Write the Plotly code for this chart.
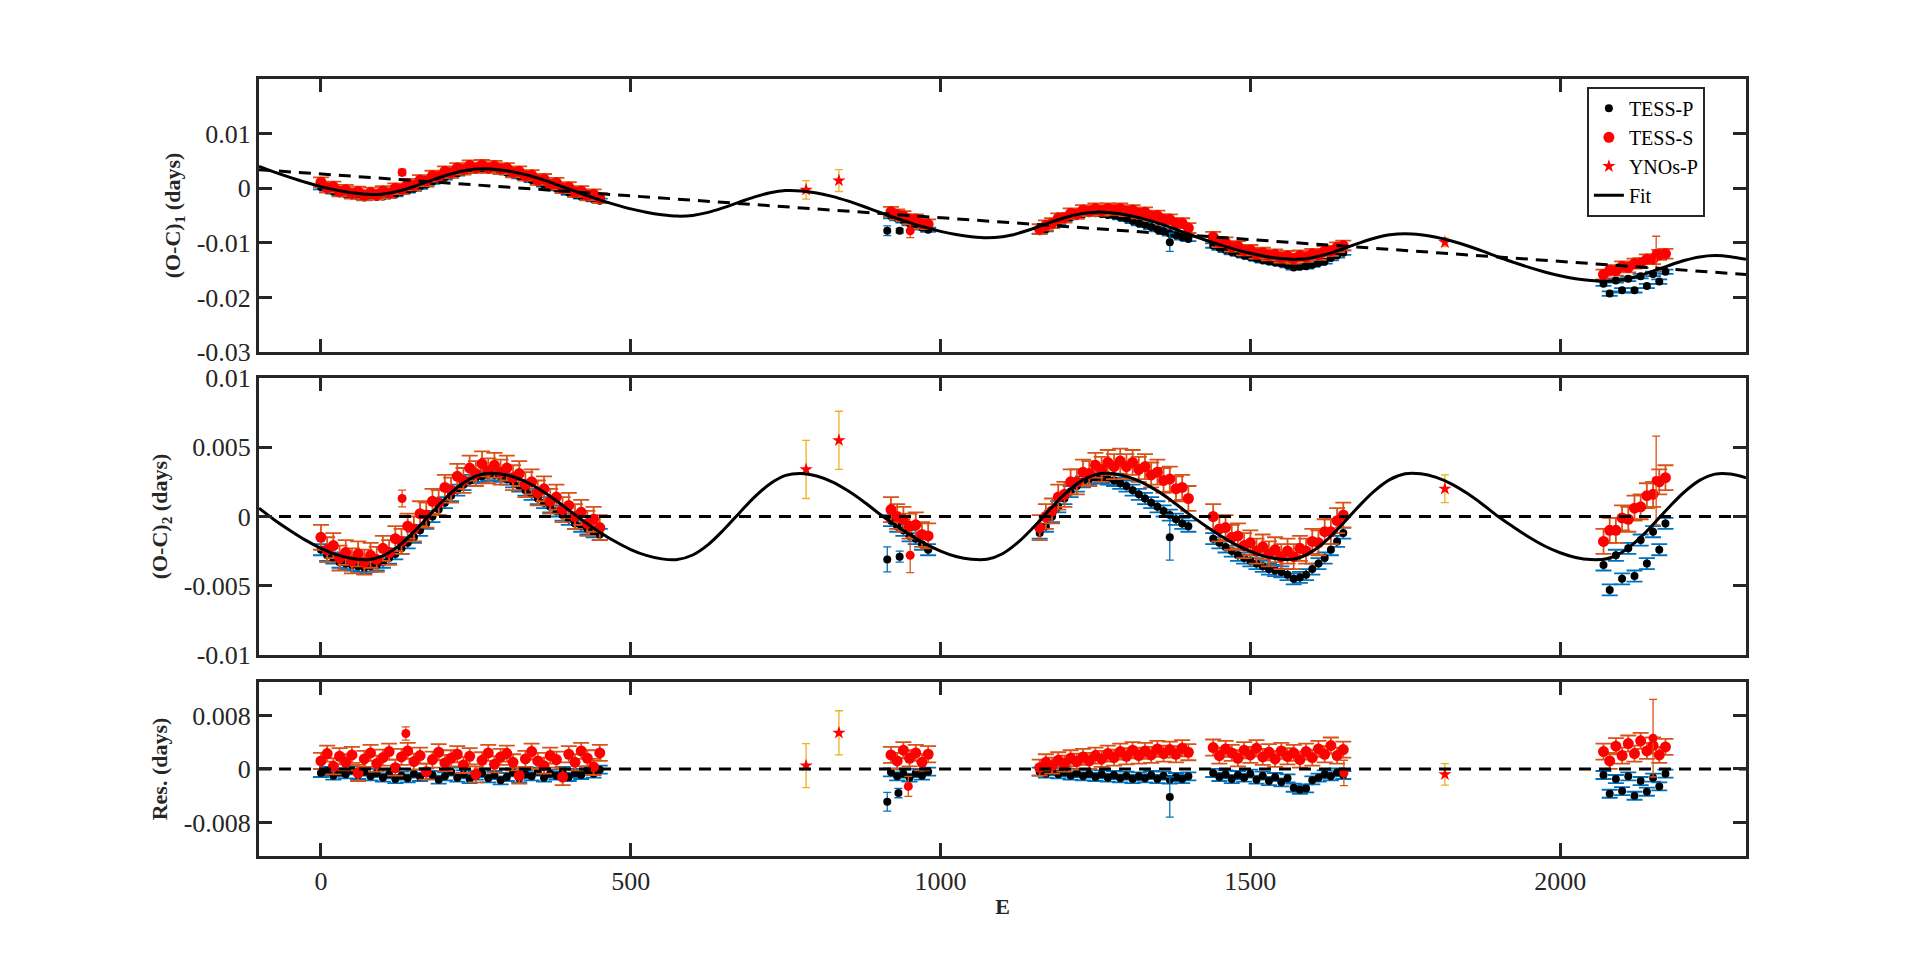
import numpy as np
import plotly.graph_objects as go

# all O-C values below are in units of 1e-3 days
MS = 1e-3

# epochs of the TESS minima (clusters of sectors)
TESS_E = [
    0, 10, 20, 30, 40, 50, 60, 70, 80, 90, 100, 110, 120, 130, 140, 150,
    160, 170, 180, 190, 200, 210, 220, 230, 240, 250, 260, 270, 280, 290,
    300, 310, 320, 330, 340, 350, 360, 370, 380, 390, 400, 410, 420, 430,
    440, 450,
    920, 930, 940, 950, 960, 970, 980,
    1160, 1170, 1180, 1190, 1200, 1210, 1220, 1230, 1240, 1250, 1260, 1270,
    1280, 1290, 1300, 1310, 1320, 1330, 1340, 1350, 1360, 1370, 1380, 1390,
    1400,
    1440, 1450, 1460, 1470, 1480, 1490, 1500, 1510, 1520, 1530, 1540, 1550,
    1560, 1570, 1580, 1590, 1600, 1610, 1620, 1630, 1640, 1650,
    2070, 2080, 2090, 2100, 2110, 2120, 2130, 2140, 2150, 2160, 2170,
]

# (O-C)_1
OC1_S = [
    1.1, 0.1, 0.3, -0.6, -0.3, -1.0, -0.6, -1.3, -0.8, -1.2, -0.5, -0.9, 0.0,
    -0.2, 0.8, 0.5, 1.5, 1.3, 2.3, 2.1, 3.1, 2.8, 3.7, 3.4, 4.2, 3.7, 4.3,
    3.7, 4.1, 3.5, 3.7, 2.9, 3.1, 2.3, 2.4, 1.5, 1.7, 0.7, 1.0, 0.0, 0.2,
    -0.7, -0.5, -1.3, -1.1, -1.8,
    -4.3, -4.8, -5.1, -5.7, -5.7, -6.5, -6.6,
    -7.5, -6.8, -6.4, -5.5, -5.4, -4.6, -4.7, -4.0, -4.2, -3.7, -4.1, -3.7,
    -4.0, -3.7, -4.2, -4.0, -4.6, -4.4, -5.1, -5.0, -5.7, -5.7, -6.4, -6.4,
    -7.3,
    -8.9, -9.9, -9.9, -10.7, -10.6, -11.4, -11.3, -12.0, -11.8, -12.3, -12.1,
    -12.7, -12.4, -12.9, -12.3, -12.6, -12.0, -12.2, -11.5, -11.5, -10.8,
    -10.5,
    -15.8, -15.0, -15.1, -14.3, -14.5, -13.8, -13.7, -13.0, -13.0, -12.2,
    -12.0,
]
OC1_P = [
    0.2, -0.3, -0.6, -0.9, -1.1, -1.3, -1.5, -1.7, -1.6, -1.6, -1.5, -1.3,
    -1.1, -0.7, -0.4, -0.1, 0.3, 0.7, 1.2, 1.6, 2.0, 2.4, 2.7, 3.1, 3.3, 3.4,
    3.4, 3.4, 3.4, 3.2, 2.9, 2.6, 2.2, 1.9, 1.5, 1.1, 0.7, 0.3, 0.0, -0.4,
    -0.8, -1.2, -1.5, -1.7, -2.0, -2.3,
    -5.1, -5.5, -5.9, -6.4, -6.7, -7.2, -7.6,
    -7.9, -7.5, -6.8, -6.2, -5.7, -5.3, -5.0, -4.7, -4.6, -4.6, -4.7, -4.9,
    -5.0, -5.3, -5.6, -6.0, -6.4, -6.7, -7.1, -7.5, -7.9, -8.3, -8.6, -9.0,
    -9.3,
    -10.5, -10.9, -11.3, -11.7, -12.0, -12.3, -12.6, -12.9, -13.2, -13.4,
    -13.6, -13.8, -14.1, -14.5, -14.4, -14.3, -14.0, -13.7, -13.4, -12.8,
    -12.3, -11.8,
    -17.5, -19.3, -16.9, -18.7, -16.6, -18.7, -16.1, -17.9, -15.7, -17.1,
    -15.3,
]

# (O-C)_2
OC2_S = [
    -1.5, -2.4, -2.1, -3.0, -2.6, -3.2, -2.7, -3.3, -2.8, -3.1, -2.3, -2.6,
    -1.6, -1.8, -0.7, -0.9, 0.2, 0.1, 1.1, 1.0, 2.1, 1.9, 2.9, 2.6, 3.5, 3.1,
    3.8, 3.3, 3.7, 3.2, 3.5, 2.8, 3.1, 2.3, 2.5, 1.7, 2.0, 1.1, 1.4, 0.5, 0.8,
    0.0, 0.3, -0.5, -0.2, -0.8,
    0.5, 0.0, -0.2, -0.7, -0.6, -1.3, -1.4,
    -0.8, 0.0, 0.4, 1.4, 1.6, 2.5, 2.5, 3.2, 3.1, 3.7, 3.4, 3.9, 3.6, 4.0,
    3.6, 3.9, 3.4, 3.6, 3.0, 3.2, 2.6, 2.7, 2.0, 2.1, 1.3,
    0.0, -0.9, -0.8, -1.5, -1.4, -2.1, -1.9, -2.5, -2.2, -2.7, -2.4, -2.9,
    -2.5, -2.9, -2.3, -2.5, -1.8, -1.9, -1.1, -1.1, -0.3, 0.1,
    -1.8, -1.0, -1.0, -0.1, -0.2, 0.6, 0.7, 1.5, 1.6, 2.5, 2.8,
]
OC2_P = [
    -2.4, -2.8, -3.0, -3.3, -3.4, -3.5, -3.6, -3.7, -3.6, -3.5, -3.3, -3.0,
    -2.7, -2.3, -1.9, -1.5, -1.0, -0.5, 0.0, 0.5, 1.0, 1.5, 1.9, 2.3, 2.6,
    2.8, 2.9, 3.0, 3.0, 2.9, 2.7, 2.5, 2.2, 1.9, 1.6, 1.3, 1.0, 0.7, 0.4, 0.1,
    -0.2, -0.5, -0.7, -0.9, -1.1, -1.3,
    -0.3, -0.7, -1.0, -1.4, -1.6, -2.0, -2.4,
    -1.2, -0.7, 0.0, 0.7, 1.3, 1.8, 2.2, 2.5, 2.7, 2.8, 2.8, 2.7, 2.6, 2.4,
    2.2, 1.9, 1.6, 1.3, 1.0, 0.7, 0.4, 0.1, -0.2, -0.5, -0.7,
    -1.6, -1.9, -2.2, -2.5, -2.8, -3.0, -3.2, -3.4, -3.6, -3.8, -3.9, -4.0,
    -4.2, -4.5, -4.4, -4.2, -3.8, -3.4, -3.0, -2.4, -1.8, -1.2,
    -3.5, -5.3, -2.8, -4.5, -2.3, -4.3, -1.7, -3.4, -1.1, -2.4, -0.5,
]

# residuals
RES_S = [
    1.2, 2.3, 0.4, 1.9, 1.0, 2.1, -0.6, 1.5, 2.4, 0.8, 1.7, 2.6, 0.2, 1.8,
    2.7, 1.1, 2.0, -0.4, 1.4, 2.5, 0.9, 1.6, 2.2, 0.6, 1.9, -0.8, 1.3, 2.4,
    0.7, 1.8, 2.3, 1.0, -1.0, 1.5, 2.6, 1.2, 0.5, 2.0, 1.4, -1.2, 2.2, 1.0,
    2.7, 1.6, 0.3, 2.4,
    2.1, 1.2, 2.8, 1.6, 2.4, 1.0, 2.2,
    0.2, 1.0, 0.5, 1.3, 0.8, 1.6, 1.1, 1.8, 1.2, 2.0, 1.5, 2.3, 1.7, 2.6,
    1.9, 2.8, 2.0, 2.7, 2.1, 3.0, 2.3, 2.9, 2.2, 3.1, 2.5,
    3.2, 2.0, 3.0, 2.4, 1.6, 2.8, 2.1, 3.1, 1.8, 2.5, 1.5, 2.7, 1.9, 2.4,
    1.4, 2.6, 1.7, 3.0, 2.2, 3.5, 2.0, 2.9,
    2.6, 1.2, 3.4, 2.0, 3.8, 2.3, 4.2, 2.7, 3.5, 2.1, 3.3,
]
RES_P = [
    -0.6, -0.3, -1.0, -0.5, -0.8, -0.2, -0.9, -0.4, -1.1, -0.6, -1.3, -0.8,
    -1.5, -1.0, -1.4, -0.7, -1.2, -0.5, -0.9, -1.6, -1.1, -0.4, -1.3, -0.8,
    -1.5, -1.0, -0.6, -1.4, -0.9, -1.7, -1.2, -0.5, -1.4, -0.8, -1.1, -0.4,
    -1.3, -0.7, -1.0, -0.3, -1.2, -0.6, -0.9, -0.2, -0.7, -0.1,
    -0.5, -1.1, -0.7, -1.3, -0.6, -1.0, -0.4,
    -0.4, -0.7, -0.3, -0.8, -0.5, -1.0, -0.6, -1.1, -0.7, -1.2, -0.8, -1.3,
    -0.9, -1.4, -1.0, -1.5, -1.1, -1.4, -0.9, -1.5, -1.0, -1.6, -1.2, -1.5,
    -1.1,
    -0.6, -1.2, -0.8, -1.5, -0.9, -1.3, -0.7, -1.6, -1.0, -1.8, -1.2, -2.0,
    -1.4, -2.8, -3.1, -2.9, -1.7, -1.3, -0.8, -1.1, -0.5, -0.9,
    -0.9, -3.7, -1.5, -3.3, -1.1, -4.0, -1.8, -3.4, -1.3, -2.6, -0.7,
]

# typical error bars of the TESS timings, per panel
ERR_S = [0.9, 0.9, 1.2]
ERR_P = [0.4, 0.4, 0.6]

# isolated TESS points with their own error bars
XP_E = [[914, 934, 1370], [914, 934, 1370], [914, 932, 1370]]
XP_Y = [[-7.8, -7.8, -9.9], [-3.1, -2.9, -1.5], [-4.9, -3.6, -4.2]]
XP_ERR = [[0.9, 0.4, 1.65], [0.9, 0.4, 1.65], [1.4, 0.7, 3.0]]
XS_E = [[131, 951, 2155], [131, 951, 2155], [137, 948, 1651, 2150]]
XS_Y = [[2.9, -7.8, -12.0], [1.3, -2.8, 2.6], [5.3, -2.6, -0.6, 4.6]]
XS_ERR = [[0.6, 1.25, 3.2], [0.6, 1.25, 3.2], [1.0, 1.5, 1.9, 5.8]]

# YNOs primary minima
YNO_E = [783, 836, 1814]
YNO_Y = [[-0.3, 1.4, -9.9], [3.4, 5.5, 2.0], [0.5, 5.4, -0.8]]
YNO_ERR = [[1.7, 2.0, 0.8], [2.1, 2.1, 1.0], [3.3, 3.3, 1.6]]

# fitted curve
FIT_E = [
    -100, -75, -50, -25, 0, 25, 50, 75, 100, 125, 150, 175, 200, 225, 250,
    275, 300, 325, 350, 375, 400, 425, 450, 475, 500, 525, 550, 575, 600, 625,
    650, 675, 700, 725, 750, 775, 800, 825, 850, 875, 900, 925, 950, 975,
    1000, 1025, 1050, 1075, 1100, 1125, 1150, 1175, 1200, 1225, 1250, 1275,
    1300, 1325, 1350, 1375, 1400, 1425, 1450, 1475, 1500, 1525, 1550, 1575,
    1600, 1625, 1650, 1675, 1700, 1725, 1750, 1775, 1800, 1825, 1850, 1875,
    1900, 1925, 1950, 1975, 2000, 2025, 2050, 2075, 2100, 2125, 2150, 2175,
    2200, 2225, 2250, 2275, 2300,
]
FIT_OC1 = [
    4.00, 2.95, 1.99, 1.09, 0.30, -0.35, -0.83, -1.12, -1.04, -0.54, 0.30,
    1.30, 2.28, 3.07, 3.52, 3.52, 3.19, 2.62, 1.84, 0.90, -0.14, -1.17,
    -2.13, -3.01, -3.79, -4.41, -4.86, -5.11, -4.98, -4.43, -3.56, -2.56,
    -1.58, -0.83, -0.43, -0.49, -0.88, -1.50, -2.33, -3.30, -4.36, -5.36,
    -6.30, -7.16, -7.90, -8.49, -8.89, -9.09, -8.89, -8.27, -7.38, -6.36,
    -5.41, -4.70, -4.38, -4.49, -4.90, -5.53, -6.35, -7.33, -8.39, -9.39,
    -10.33, -11.19, -11.92, -12.50, -12.89, -13.03, -12.72, -12.03, -11.09,
    -10.07, -9.17, -8.54, -8.32, -8.52, -8.98, -9.66, -10.53, -11.53, -12.60,
    -13.57, -14.50, -15.33, -16.02, -16.56, -16.91, -17.05, -16.78, -16.11,
    -15.18, -14.17, -13.25, -12.59, -12.34, -12.53, -13.01,
]
FIT_OC2 = [
    0.60, -0.25, -1.01, -1.71, -2.30, -2.75, -3.03, -3.12, -2.84, -2.14,
    -1.10, 0.10, 1.28, 2.27, 2.92, 3.12, 2.99, 2.62, 2.04, 1.30, 0.46, -0.37,
    -1.13, -1.81, -2.39, -2.81, -3.06, -3.11, -2.78, -2.03, -0.96, 0.24, 1.42,
    2.37, 2.97, 3.11, 2.92, 2.50, 1.87, 1.10, 0.24, -0.56, -1.30, -1.96,
    -2.50, -2.89, -3.09, -3.09, -2.69, -1.87, -0.78, 0.44, 1.59, 2.50, 3.02,
    3.11, 2.90, 2.47, 1.85, 1.07, 0.21, -0.59, -1.33, -1.99, -2.52, -2.90,
    -3.09, -3.03, -2.52, -1.63, -0.49, 0.73, 1.83, 2.66, 3.08, 3.08, 2.82,
    2.34, 1.67, 0.87, 0.00, -0.77, -1.50, -2.13, -2.62, -2.96, -3.11, -3.05,
    -2.58, -1.71, -0.58, 0.63, 1.75, 2.61, 3.06, 3.07, 2.79,
]

# dashed lines: linear ephemeris term in panel 1, zero in panels 2 and 3
LINE_E = [-100, 2300]
LINE_Y = [[3.4, -15.8], [0, 0], [0, 0]]

BLUE = "#0072BD"
ORANGE = "#D95319"
YELLOW = "#EDB120"
AXIS = "#262626"
FONT = "Liberation Serif"


def days(v):
    return np.array(v) * MS


fig = go.Figure()


def add_panel(i, s_y, p_y, fit_y):
    xa = "x" if i == 0 else f"x{i + 1}"
    ya = "y" if i == 0 else f"y{i + 1}"
    leg = i == 0
    bar = dict(thickness=1.8, width=8)
    fig.add_trace(go.Scatter(
        x=TESS_E, y=days(p_y), xaxis=xa, yaxis=ya, mode="markers",
        name="TESS-P", legendgroup="p", showlegend=leg,
        marker=dict(color="black", size=8),
        error_y=dict(type="constant", value=ERR_P[i] * MS, color=BLUE, **bar),
    ))
    fig.add_trace(go.Scatter(
        x=XP_E[i], y=days(XP_Y[i]), xaxis=xa, yaxis=ya, mode="markers",
        name="TESS-P", legendgroup="p", showlegend=False,
        marker=dict(color="black", size=8),
        error_y=dict(type="data", array=days(XP_ERR[i]), color=BLUE,
                     thickness=1.3, width=4),
    ))
    fig.add_trace(go.Scatter(
        x=TESS_E, y=days(s_y), xaxis=xa, yaxis=ya, mode="markers",
        name="TESS-S", legendgroup="s", showlegend=leg,
        marker=dict(color="red", size=11),
        error_y=dict(type="constant", value=ERR_S[i] * MS, color=ORANGE, **bar),
    ))
    fig.add_trace(go.Scatter(
        x=XS_E[i], y=days(XS_Y[i]), xaxis=xa, yaxis=ya, mode="markers",
        name="TESS-S", legendgroup="s", showlegend=False,
        marker=dict(color="red", size=9),
        error_y=dict(type="data", array=days(XS_ERR[i]), color=ORANGE,
                     thickness=1.3, width=4),
    ))
    fig.add_trace(go.Scatter(
        x=YNO_E, y=days(YNO_Y[i]), xaxis=xa, yaxis=ya, mode="markers",
        name="YNOs-P", legendgroup="y", showlegend=leg,
        marker=dict(color="red", size=10, symbol="star"),
        error_y=dict(type="data", array=days(YNO_ERR[i]), color=YELLOW,
                     thickness=1.3, width=4),
    ))
    fig.add_trace(go.Scatter(
        x=LINE_E, y=days(LINE_Y[i]), xaxis=xa, yaxis=ya, mode="lines",
        showlegend=False, hoverinfo="skip",
        line=dict(color="black", width=3, dash="12px,8px"),
    ))
    if fit_y is not None:
        fig.add_trace(go.Scatter(
            x=FIT_E, y=days(fit_y), xaxis=xa, yaxis=ya, mode="lines",
            name="Fit", legendgroup="f", showlegend=leg,
            line=dict(color="black", width=3, shape="spline"),
        ))


add_panel(0, OC1_S, OC1_P, FIT_OC1)
add_panel(1, OC2_S, OC2_P, FIT_OC2)
add_panel(2, RES_S, RES_P, None)

axis_style = dict(
    showline=True, linecolor=AXIS, linewidth=3, mirror="ticks",
    ticks="inside", ticklen=13, tickwidth=3, tickcolor=AXIS,
    showgrid=False, zeroline=False,
    tickfont=dict(family=FONT, size=26, color=AXIS),
)
domains = [[0.6486, 1.0], [0.2587, 0.6152], [0.0, 0.224]]
y_ranges = [[-0.03, 0.02], [-0.01, 0.01], [-0.013, 0.013]]
y_ticks = [
    ([-0.03, -0.02, -0.01, 0, 0.01], ["-0.03", "-0.02", "-0.01", "0", "0.01"]),
    ([-0.01, -0.005, 0, 0.005, 0.01], ["-0.01", "-0.005", "0", "0.005", "0.01"]),
    ([-0.008, 0, 0.008], ["-0.008", "0", "0.008"]),
]
y_titles = [
    "<b>(O-C)<sub>1</sub> (days)</b>",
    "<b>(O-C)<sub>2</sub> (days)</b>",
    "<b>Res. (days)</b>",
]

layout = {}
for i in range(3):
    sfx = "" if i == 0 else str(i + 1)
    layout["xaxis" + sfx] = dict(
        axis_style, domain=[0, 1], anchor="y" + sfx, range=[-100, 2300],
        tickvals=[0, 500, 1000, 1500, 2000], showticklabels=(i == 2),
    )
    layout["yaxis" + sfx] = dict(
        axis_style, domain=domains[i], anchor="x" + sfx, range=y_ranges[i],
        tickvals=y_ticks[i][0], ticktext=y_ticks[i][1],
        title=dict(text=y_titles[i], font=dict(family=FONT, size=22, color=AXIS),
                   standoff=10),
    )
layout["xaxis3"]["title"] = dict(
    text="<b>E</b>", font=dict(family=FONT, size=22, color=AXIS), standoff=4
)

fig.update_layout(
    **layout,
    width=1920,
    height=954,
    margin=dict(l=251, r=182, t=71, b=106),
    paper_bgcolor="white",
    plot_bgcolor="white",
    font=dict(family=FONT, color=AXIS),
    legend=dict(
        x=0.893, y=0.99, xanchor="left", yanchor="top",
        bgcolor="white", bordercolor=AXIS, borderwidth=2,
        font=dict(family=FONT, size=20, color="black"),
        tracegroupgap=0, itemwidth=30,
    ),
)

fig.write_html("out.html")
